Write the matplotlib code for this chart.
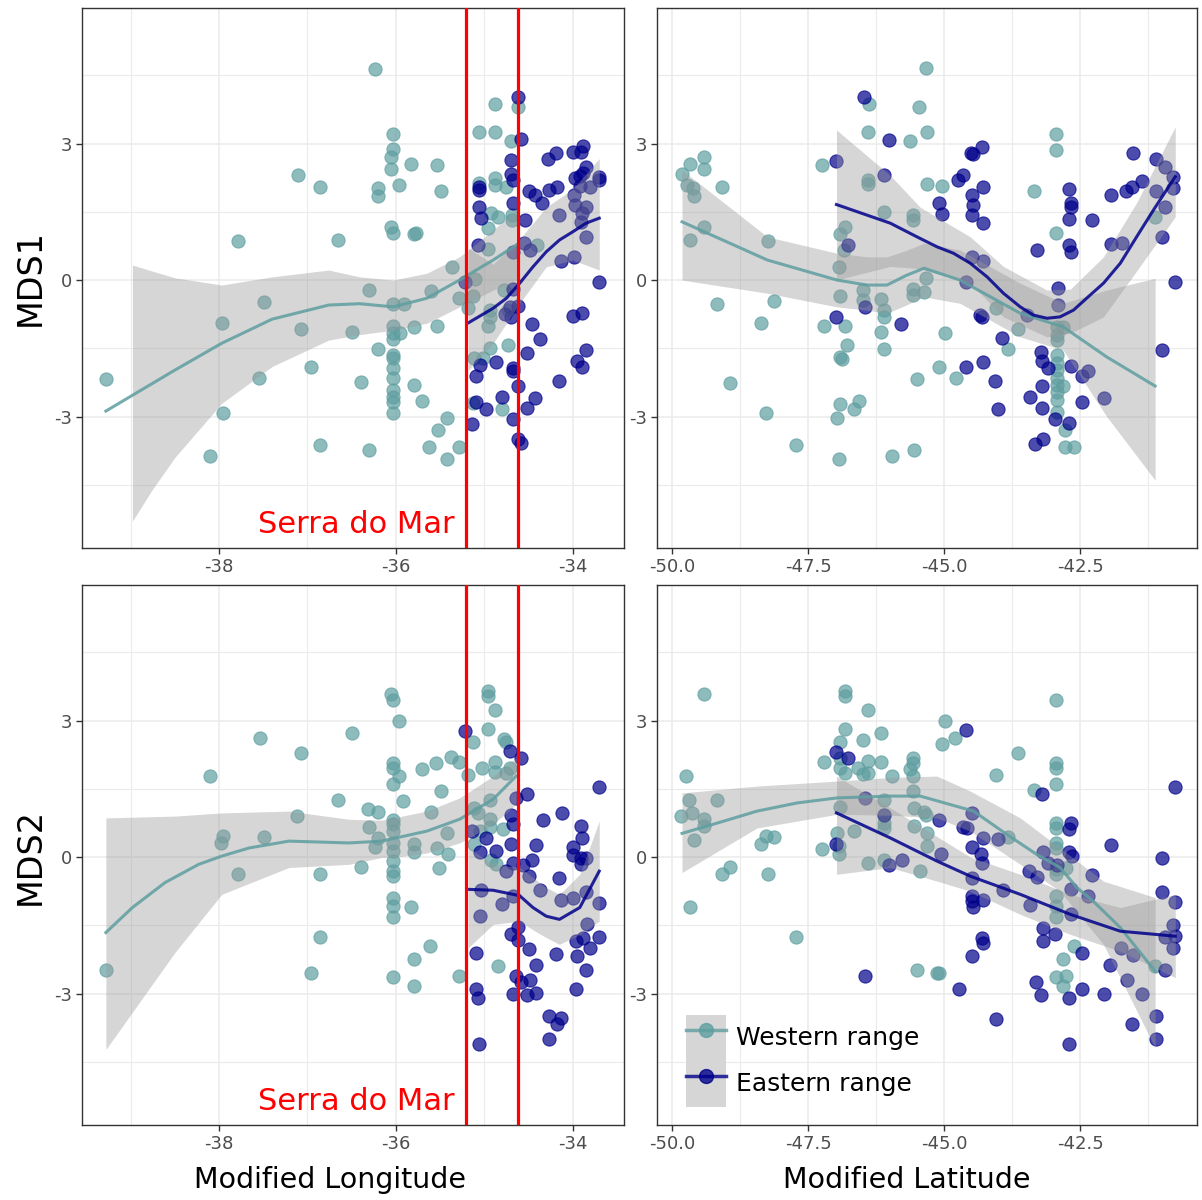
import numpy as np
import matplotlib.pyplot as plt
from matplotlib.lines import Line2D
from matplotlib.patches import Patch

plt.rcParams['font.family'] = ['DejaVu Sans']
plt.rcParams['axes.unicode_minus'] = False

WEST = '#5F9EA0'
EAST = '#00008B'

# ---- points: (x, MDS value) ----
tl_west = [(-36.24, 4.65), (-37.11, 2.32), (-36.86, 2.04), (-36.2, 2.02), (-36.2, 1.85), (-37.79, 0.86),
           (-36.65, 0.88), (-36.3, -0.21), (-37.49, -0.48), (-37.97, -0.94), (-37.07, -1.08), (-36.5, -1.15),
           (-36.2, -1.52), (-39.28, -2.18), (-37.55, -2.16), (-36.96, -1.92), (-36.4, -2.25), (-37.96, -2.93),
           (-38.1, -3.87), (-36.86, -3.63), (-36.3, -3.74), (-34.88, 3.88), (-34.62, 3.80), (-35.06, 3.25),
           (-34.88, 3.26), (-34.70, 3.06), (-36.03, 3.21), (-36.03, 2.87), (-36.05, 2.70), (-36.05, 2.45),
           (-35.83, 2.56), (-35.53, 2.52), (-35.96, 2.08), (-35.49, 1.95), (-35.06, 2.14), (-34.88, 2.24),
           (-34.88, 2.10), (-34.76, 2.05), (-36.05, 1.17), (-36.03, 1.04), (-35.8, 1.02), (-35.77, 1.03),
           (-34.92, 1.48), (-34.85, 1.39), (-34.69, 1.43), (-34.69, 1.32), (-34.96, 1.14), (-34.96, 0.68),
           (-34.40, 0.78), (-35.37, 0.28), (-36.03, -0.53), (-35.91, -0.53), (-35.6, -0.25), (-35.29, -0.40),
           (-35.11, 0.03), (-35.13, -0.35), (-35.18, -0.62), (-34.78, -0.22), (-34.93, -0.66), (-34.93, -0.81),
           (-34.96, -1.0), (-34.73, -0.66), (-36.03, -1.0), (-36.03, -1.17), (-35.95, -1.17), (-36.03, -1.3),
           (-35.8, -1.04), (-35.54, -1.0), (-36.03, -1.65), (-36.03, -1.72), (-36.03, -1.94), (-36.03, -2.16),
           (-36.03, -2.42), (-36.03, -2.56), (-36.03, -2.67), (-36.03, -2.92), (-35.8, -2.31), (-35.71, -2.65),
           (-34.93, -1.50), (-34.73, -1.42), (-35.12, -1.72), (-35.01, -1.72), (-35.13, -2.71), (-34.8, -2.84),
           (-35.42, -3.04), (-35.52, -3.30), (-35.62, -3.68), (-35.42, -3.94), (-35.29, -3.66)]
tl_east = [(-34.62, 4.03), (-34.59, 3.09), (-34.70, 2.64), (-34.7, 2.34), (-34.67, 2.2), (-34.28, 2.67),
           (-34.19, 2.80), (-34.0, 2.82), (-33.91, 2.82), (-33.88, 2.95), (-33.85, 2.49), (-33.97, 2.24),
           (-33.92, 2.29), (-33.88, 2.35), (-33.7, 2.27), (-33.7, 2.2), (-33.92, 2.07), (-33.81, 2.05),
           (-35.06, 2.05), (-35.06, 1.98), (-34.49, 1.96), (-34.43, 1.86), (-34.35, 1.69), (-34.27, 1.98),
           (-34.18, 2.05), (-33.98, 1.86), (-35.06, 1.61), (-35.04, 1.36), (-34.67, 1.69), (-34.54, 1.33),
           (-33.97, 1.66), (-33.85, 1.61), (-33.89, 1.47), (-33.91, 1.28), (-34.15, 1.44), (-33.85, 0.95),
           (-35.07, 0.77), (-34.55, 0.81), (-34.48, 0.66), (-34.67, 0.62), (-34.13, 0.42), (-33.99, 0.51),
           (-33.70, -0.04), (-35.22, -0.04), (-34.67, -0.19), (-34.71, -0.59), (-34.62, -0.57), (-34.77, -0.75),
           (-34.7, -0.82), (-34.46, -0.97), (-34.37, -1.29), (-34.0, -0.8), (-33.89, -0.73), (-34.52, -1.6),
           (-34.87, -1.80), (-35.05, -1.87), (-35.09, -2.11), (-34.68, -1.94), (-34.67, -1.99), (-34.62, -2.33),
           (-33.95, -1.79), (-33.89, -1.92), (-33.85, -1.54), (-34.15, -2.23), (-34.43, -2.6), (-34.52, -2.82),
           (-34.8, -2.56), (-34.98, -2.84), (-35.09, -2.67), (-35.14, -3.16), (-34.67, -3.06), (-34.62, -3.5),
           (-34.59, -3.59)]

tr_west = [(-45.33, 4.66), (-46.39, 3.88), (-45.46, 3.80), (-46.40, 3.26), (-45.62, 3.05), (-45.31, 3.25),
           (-49.67, 2.56), (-49.42, 2.70), (-49.42, 2.44), (-49.82, 2.33), (-49.72, 2.09), (-49.61, 2.03),
           (-49.60, 1.85), (-49.08, 2.05), (-47.25, 2.53), (-46.40, 2.20), (-46.40, 2.11), (-45.31, 2.11),
           (-46.11, 1.50), (-45.57, 1.44), (-45.57, 1.33), (-49.42, 1.17), (-49.67, 0.89), (-48.24, 0.86),
           (-46.83, 1.16), (-46.92, 1.01), (-46.84, 0.67), (-46.94, 0.29), (-46.92, -0.34), (-46.5, -0.22),
           (-46.5, -0.44), (-46.17, -0.41), (-46.11, -0.66), (-46.11, -0.81), (-45.34, 0.04), (-45.57, -0.2),
           (-45.57, -0.33), (-45.37, -0.26), (-49.17, -0.53), (-48.13, -0.47), (-48.36, -0.94), (-47.2, -1.0),
           (-46.83, -1.0), (-46.17, -1.14), (-46.11, -1.51), (-46.79, -1.42), (-46.92, -1.70), (-46.87, -1.74),
           (-45.5, -2.18), (-48.94, -2.26), (-48.27, -2.93), (-46.92, -2.73), (-46.66, -2.84), (-46.56, -2.65),
           (-46.97, -3.04), (-47.73, -3.63), (-46.93, -3.94), (-45.96, -3.87), (-45.56, -3.74), (-45.04, 2.07),
           (-43.35, 1.95), (-42.94, 3.21), (-42.94, 2.86), (-42.94, 1.04), (-41.12, 1.39), (-44.04, -0.62),
           (-43.64, -1.08), (-44.98, -1.16), (-43.82, -1.52), (-45.1, -1.91), (-44.79, -2.16), (-42.93, -1.03),
           (-42.93, -1.21), (-42.93, -1.32), (-42.81, -1.03), (-42.93, -1.65), (-42.93, -1.83), (-42.93, -1.98),
           (-42.93, -2.16), (-42.93, -2.31), (-42.93, -2.45), (-42.93, -2.64), (-42.93, -2.89), (-42.81, -2.33),
           (-42.77, -3.30), (-42.77, -3.68), (-42.62, -3.68)]
tr_east = [(-46.48, 4.03), (-46.02, 3.08), (-46.99, 2.62), (-46.1, 2.31), (-46.77, 0.78), (-46.98, -0.81),
           (-46.46, -0.59), (-45.79, -0.97), (-44.3, 2.93), (-44.51, 2.80), (-44.46, 2.77), (-44.66, 2.31),
           (-44.74, 2.21), (-45.1, 1.69), (-45.04, 1.45), (-44.49, 1.87), (-44.47, 1.65), (-44.49, 1.43),
           (-44.29, 2.05), (-44.29, 1.26), (-42.70, 2.01), (-42.66, 1.70), (-42.67, 1.60), (-42.71, 1.35),
           (-42.28, 1.33), (-41.94, 1.86), (-41.65, 1.95), (-41.54, 2.05), (-41.37, 2.18), (-41.52, 2.80),
           (-41.1, 2.67), (-40.94, 2.49), (-40.79, 2.27), (-40.79, 2.02), (-41.1, 1.96), (-40.94, 1.60),
           (-41.0, 0.94), (-40.75, -0.04), (-41.0, -1.54), (-43.3, 0.66), (-42.7, 0.77), (-42.66, 0.62),
           (-41.94, 0.79), (-41.73, 0.81), (-44.49, 0.51), (-44.29, 0.42), (-44.6, -0.04), (-42.9, -0.18),
           (-42.91, -0.54), (-44.34, -0.77), (-44.3, -0.82), (-43.47, -0.77), (-43.93, -1.28), (-43.22, -1.58),
           (-43.2, -1.79), (-43.09, -1.94), (-44.6, -1.92), (-44.28, -1.8), (-44.06, -2.23), (-44.01, -2.83),
           (-43.2, -2.33), (-43.43, -2.56), (-43.2, -2.81), (-42.97, -3.06), (-42.7, -3.15), (-43.32, -3.60),
           (-43.19, -3.50), (-42.67, -1.89), (-42.46, -2.11), (-42.35, -1.99), (-42.46, -2.67), (-42.06, -2.6)]

bl_west = [(-37.54, 2.62), (-36.5, 2.72), (-37.07, 2.28), (-38.1, 1.78), (-36.66, 1.25), (-36.31, 1.06),
           (-36.2, 0.99), (-37.12, 0.90), (-36.3, 0.67), (-37.96, 0.46), (-37.98, 0.31), (-37.49, 0.45),
           (-36.2, 0.42), (-36.24, 0.23), (-37.79, -0.37), (-36.86, -0.38), (-36.4, -0.22), (-36.86, -1.76),
           (-39.28, -2.48), (-36.96, -2.54), (-36.05, 3.59), (-36.03, 3.46), (-35.96, 2.99), (-34.96, 3.66),
           (-34.96, 3.54), (-34.88, 3.23), (-34.96, 2.82), (-35.13, 2.52), (-34.78, 2.6), (-34.76, 2.52),
           (-36.03, 2.07), (-36.03, 1.96), (-35.96, 1.78), (-36.03, 1.6), (-35.7, 1.93), (-35.55, 2.07),
           (-35.38, 2.2), (-35.29, 2.08), (-35.18, 1.80), (-35.03, 1.96), (-34.88, 2.09), (-34.88, 1.86),
           (-34.75, 1.85), (-34.71, 1.96), (-35.49, 1.45), (-35.92, 1.23), (-35.6, 0.98), (-36.03, 0.81),
           (-36.03, 0.72), (-36.03, 0.57), (-36.03, 0.31), (-36.03, 0.13), (-36.03, -0.09), (-36.03, -0.31),
           (-36.03, -0.42), (-35.79, 0.28), (-35.8, 0.11), (-35.53, 0.19), (-35.41, 0.06), (-35.42, 0.53),
           (-35.51, -0.23), (-35.12, 1.08), (-35.07, 0.97), (-34.93, 0.83), (-34.93, 0.66), (-34.79, 0.61),
           (-35.05, 0.57), (-35.12, 0.28), (-34.92, -0.07), (-34.87, -0.16), (-34.93, 1.25), (-36.03, -0.89),
           (-36.03, -1.08), (-36.03, -1.32), (-35.83, -1.10), (-35.61, -1.96), (-35.8, -2.24), (-36.03, -2.64),
           (-35.8, -2.84), (-35.29, -2.62), (-34.85, -2.40)]
bl_east = [(-35.22, 2.78), (-34.71, 2.33), (-34.58, 2.17), (-34.52, 1.38), (-34.64, 1.30), (-33.7, 1.54),
           (-34.12, 0.97), (-34.34, 0.81), (-33.91, 0.68), (-33.89, 0.42), (-34.7, 0.92), (-34.67, 0.72),
           (-35.14, 0.58), (-34.98, 0.41), (-34.42, 0.26), (-34.7, 0.29), (-34.87, 0.13), (-35.05, 0.12),
           (-34.0, 0.23), (-34.0, 0.04), (-33.91, -0.01), (-33.85, -0.01), (-33.91, -0.16), (-34.46, -0.07),
           (-34.67, -0.12), (-34.56, -0.18), (-34.76, -0.31), (-34.5, -0.42), (-34.15, -0.46), (-35.04, -0.72),
           (-34.68, -0.86), (-34.37, -0.72), (-34.8, -1.04), (-34.13, -0.94), (-34.0, -0.91), (-33.85, -0.76),
           (-33.7, -1.0), (-35.05, -1.30), (-33.84, -1.48), (-34.62, -1.54), (-34.7, -1.69), (-34.62, -1.83),
           (-34.49, -2.02), (-33.96, -1.85), (-33.88, -1.77), (-33.81, -2.01), (-33.7, -1.75), (-35.09, -2.1),
           (-34.19, -2.14), (-33.95, -2.18), (-34.42, -2.37), (-33.85, -2.49), (-34.64, -2.62), (-34.58, -2.74),
           (-34.48, -2.71), (-35.09, -2.91), (-35.07, -3.09), (-34.67, -3.02), (-34.52, -3.03), (-34.42, -2.99),
           (-33.96, -2.91), (-34.27, -3.5), (-34.13, -3.53), (-34.18, -3.68), (-34.27, -3.99), (-35.06, -4.12)]

br_west = [(-49.42, 3.59), (-46.83, 3.66), (-46.83, 3.54), (-46.4, 3.23), (-46.83, 2.82), (-46.92, 2.52),
           (-46.5, 2.57), (-46.17, 2.72), (-47.2, 2.08), (-46.92, 2.18), (-46.92, 1.96), (-46.83, 1.85),
           (-46.58, 1.95), (-46.4, 2.11), (-46.4, 1.85), (-46.49, 1.82), (-46.17, 2.09), (-45.96, 1.78),
           (-45.57, 2.18), (-45.57, 2.07), (-45.62, 1.93), (-45.57, 1.78), (-45.57, 1.45), (-49.74, 1.79),
           (-49.69, 1.25), (-49.17, 1.25), (-49.83, 0.90), (-49.63, 0.97), (-49.42, 0.83), (-49.42, 0.68),
           (-49.6, 0.37), (-48.28, 0.46), (-48.13, 0.45), (-48.36, 0.29), (-46.92, 1.10), (-46.1, 1.25),
           (-46.11, 0.92), (-46.11, 0.75), (-46.11, 0.64), (-45.56, 1.08), (-45.56, 0.68), (-45.37, 1.0),
           (-45.33, 0.92), (-45.31, 0.53), (-45.31, 0.24), (-46.66, 0.58), (-46.97, 0.53), (-46.93, 0.24),
           (-46.93, 0.06), (-47.25, 0.18), (-46.4, -0.12), (-46.11, -0.07), (-45.45, -0.31), (-49.08, -0.38),
           (-48.93, -0.22), (-48.24, -0.38), (-49.67, -1.10), (-47.73, -1.76), (-45.5, -2.49), (-45.13, -2.54),
           (-42.94, 3.46), (-44.99, 2.99), (-44.8, 2.62), (-45.04, 2.49), (-43.64, 2.28), (-44.04, 1.80),
           (-42.94, 2.07), (-42.94, 1.96), (-42.94, 1.60), (-43.35, 1.47), (-42.94, 0.75), (-42.94, 0.64),
           (-42.94, 0.31), (-42.94, 0.20), (-42.94, -0.27), (-42.94, -0.38), (-42.75, -0.23), (-42.94, -0.86),
           (-42.94, -1.08), (-42.94, -1.32), (-43.82, 0.44), (-42.62, -1.96), (-42.82, -2.25), (-42.94, -2.64),
           (-42.75, -2.62), (-42.81, -2.84), (-45.1, -2.54), (-41.12, -2.40)]
br_east = [(-46.98, 2.31), (-46.76, 2.17), (-46.46, 1.30), (-46.1, 0.92), (-46.99, 0.29), (-46.02, -0.18),
           (-45.78, -0.06), (-46.46, -2.62), (-44.6, 2.79), (-43.2, 1.38), (-42.66, 0.75), (-42.7, 0.61),
           (-40.75, 1.54), (-41.94, 0.26), (-41.0, -0.01), (-41.0, -0.76), (-40.76, -0.98), (-45.1, 0.81),
           (-44.49, 0.97), (-44.66, 0.66), (-44.58, 0.64), (-44.29, 0.42), (-44.01, 0.39), (-44.49, 0.22),
           (-44.33, 0.07), (-44.31, -0.12), (-45.05, 0.06), (-43.19, 0.12), (-43.09, -0.12), (-42.93, -0.18),
           (-42.71, 0.12), (-42.65, 0.02), (-43.44, -0.31), (-43.29, -0.44), (-44.49, -0.47), (-43.92, -0.72),
           (-42.67, -0.71), (-42.28, -0.40), (-42.35, -0.85), (-44.49, -0.86), (-44.49, -0.97), (-44.47, -1.10),
           (-44.28, -0.94), (-43.43, -1.06), (-42.67, -1.26), (-43.19, -1.55), (-43.19, -1.85), (-42.96, -1.69),
           (-44.31, -1.77), (-44.28, -1.88), (-44.49, -2.17), (-42.46, -2.10), (-41.95, -2.37), (-41.74, -2.01),
           (-41.53, -2.15), (-41.64, -2.71), (-41.37, -3.02), (-40.94, -2.49), (-41.1, -3.5), (-41.1, -3.99),
           (-41.54, -3.68), (-40.94, -1.76), (-40.79, -1.49), (-40.79, -1.99), (-40.75, -1.74), (-44.73, -2.91),
           (-44.04, -3.55), (-43.31, -2.74), (-43.21, -3.03), (-42.7, -3.09), (-42.46, -2.91), (-42.06, -3.0),
           (-42.7, -4.10)]

# ---- smoothed fits ----
# fit: (x, y)   band: (x, lower, upper)
tl_west_fit = ([-39.28, -38.5, -37.97, -37.4, -36.76, -36.41, -36.03, -35.65, -35.28, -34.9, -34.64],
               [-2.88, -1.98, -1.39, -0.86, -0.55, -0.52, -0.59, -0.40, 0.0, 0.44, 0.77])
tl_west_band = ([-38.98, -38.76, -38.5, -37.97, -37.4, -36.76, -36.41, -36.03, -35.65, -35.28, -34.9, -34.64],
                [-5.3, -4.62, -3.9, -2.71, -1.9, -1.32, -1.2, -1.1, -0.95, -0.59, -0.22, 0.0],
                [0.33, 0.2, 0.05, -0.11, 0.07, 0.22, 0.07, 0.0, 0.15, 0.51, 1.1, 1.54])
tl_east_fit = ([-35.18, -34.9, -34.75, -34.6, -34.45, -34.3, -34.15, -34.0, -33.85, -33.7],
               [-0.94, -0.62, -0.40, -0.07, 0.29, 0.62, 0.88, 1.06, 1.25, 1.36])
tl_east_band = ([-35.18, -34.9, -34.6, -34.3, -34.0, -33.7],
                [-1.98, -1.39, -0.51, 0.29, 0.44, 0.22],
                [0.7, 0.35, 0.9, 1.6, 2.0, 2.67])

tr_west_fit = ([-49.82, -48.25, -46.97, -46.42, -46.05, -45.7, -45.37, -44.71, -43.6, -42.81, -42.01, -41.12],
               [1.28, 0.44, 0.0, -0.11, -0.11, 0.1, 0.26, 0.0, -0.73, -1.03, -1.69, -2.33])
tr_west_band = (tr_west_fit[0],
                [0.0, -0.29, -0.59, -0.66, -0.73, -0.55, -0.37, -0.51, -1.25, -1.54, -3.0, -4.4],
                [2.42, 0.95, 0.59, 0.51, 0.51, 0.65, 0.81, 0.66, -0.07, -0.51, -0.22, 0.04])
tr_east_fit = ([-46.98, -45.99, -45.5, -45.13, -44.83, -44.52, -44.21, -43.91, -43.6, -43.36, -43.11,
                -42.87, -42.62, -42.38, -42.07, -41.76, -41.46, -41.15, -40.91, -40.75],
               [1.66, 1.25, 0.95, 0.73, 0.59, 0.37, 0.07, -0.29, -0.59, -0.77, -0.84,
                -0.81, -0.66, -0.40, -0.07, 0.37, 0.95, 1.54, 1.98, 2.27])
tr_east_band = ([-46.98, -45.99, -45.44, -44.52, -43.91, -43.11, -42.68, -42.07, -41.46, -40.75],
                [0.0, 0.3, 0.25, -0.07, -0.81, -1.25, -1.17, -0.81, 0.2, 1.39],
                [3.3, 2.3, 1.6, 0.95, 0.3, -0.22, -0.2, 0.51, 1.7, 3.37])

bl_west_fit = ([-39.28, -38.98, -38.61, -38.23, -37.97, -37.66, -37.21, -36.53, -36.16, -35.65, -35.28,
                -34.9, -34.64],
               [-1.66, -1.11, -0.56, -0.16, 0.02, 0.20, 0.35, 0.31, 0.35, 0.57, 0.83, 1.27, 1.78])
bl_west_band = ([-39.28, -38.5, -37.97, -37.21, -36.53, -36.16, -36.03, -35.65, -35.28, -34.9, -34.64],
                [-4.23, -2.1, -0.82, -0.23, -0.16, -0.01, -0.01, 0.09, 0.31, 0.72, 1.16],
                [0.86, 0.9, 0.97, 1.01, 0.83, 0.81, 0.86, 1.01, 1.30, 1.78, 2.18])
bl_east_fit = ([-35.18, -34.9, -34.6, -34.45, -34.3, -34.15, -33.92, -33.7],
               [-0.71, -0.73, -0.85, -1.11, -1.3, -1.37, -1.11, -0.31])
bl_east_band = (bl_east_fit[0],
                [-1.99, -1.48, -1.41, -1.6, -1.77, -1.92, -1.70, -1.41],
                [0.2, -0.16, -0.23, -0.45, -0.67, -0.82, -0.38, 0.79])

br_west_fit = ([-49.82, -49.05, -48.44, -47.7, -46.97, -45.99, -45.44, -44.46, -43.85, -43.3, -42.87,
                -42.56, -42.26, -41.76, -41.12],
               [0.52, 0.79, 1.01, 1.19, 1.30, 1.34, 1.34, 1.01, 0.50, 0.06, -0.23,
                -0.67, -0.97, -1.55, -2.51])
br_west_band = ([-49.82, -48.44, -46.97, -45.99, -45.13, -44.52, -43.6, -42.87, -42.07, -41.12],
                [-0.34, 0.64, 0.94, 0.92, 0.86, 0.57, -0.16, -0.75, -1.92, -4.19],
                [1.41, 1.56, 1.67, 1.75, 1.78, 1.45, 0.86, 0.2, -0.53, -0.89])
br_east_fit = ([-46.98, -45.99, -45.13, -44.52, -43.6, -42.68, -41.76, -40.75],
               [0.97, 0.42, -0.09, -0.42, -0.82, -1.26, -1.63, -1.74])
br_east_band = (br_east_fit[0],
                [-0.38, -0.23, -0.53, -0.75, -1.26, -1.70, -2.07, -2.65],
                [1.78, 1.08, 0.45, 0.0, -0.38, -0.82, -1.11, -0.82])

serra_do_mar = [-35.21, -34.62]
lon_ticks = [-38, -36, -34]
lat_ticks = [-50.0, -47.5, -45.0, -42.5]
mds_ticks = [3, 0, -3]


def style_axis(ax, xlim, xticks, xlabels, xminor):
    ax.set_xticks(xticks)
    ax.set_xticklabels(xlabels)
    ax.set_xticks(xminor, minor=True)
    ax.set_yticks(mds_ticks)
    ax.set_yticklabels([str(t) for t in mds_ticks])
    ax.set_yticks([-4.5, -1.5, 1.5, 4.5], minor=True)
    # limits after the ticks, so off-range minor ticks do not widen them
    ax.set_xlim(xlim)
    ax.set_ylim(-5.89, 5.98)
    ax.grid(which='major', color='#EBEBEB', lw=1.1, zorder=0)
    ax.grid(which='minor', color='#EBEBEB', lw=0.8, zorder=0)
    ax.set_axisbelow(True)
    ax.tick_params(which='major', length=4, width=1, color='#333333',
                   labelcolor='#4D4D4D', labelsize=13, pad=3)
    ax.tick_params(which='minor', length=0)
    for s in ax.spines.values():
        s.set_color('#333333')
        s.set_linewidth(1.0)


def draw_panel(ax, west, east, wfit, wband, efit, eband):
    for pts, col in ((west, WEST), (east, EAST)):
        xy = np.array(pts)
        ax.scatter(xy[:, 0], xy[:, 1], s=90, color=col, alpha=0.7,
                   edgecolors=col, linewidths=0.8, zorder=2)
    for fit, band, col in ((wfit, wband, WEST), (efit, eband, EAST)):
        ax.fill_between(band[0], band[1], band[2], color='#999999', alpha=0.4,
                        lw=0, zorder=3)
        ax.plot(fit[0], fit[1], color=col, lw=2.2, alpha=0.85, zorder=4,
                solid_joinstyle='round')


fig = plt.figure(figsize=(12.02, 12), dpi=100)
W, H = 1202, 1200
ax_tl = fig.add_axes([82 / W, 652 / H, 542 / W, 540 / H])
ax_tr = fig.add_axes([657 / W, 652 / H, 540 / W, 540 / H])
ax_bl = fig.add_axes([82 / W, 75 / H, 542 / W, 540 / H])
ax_br = fig.add_axes([657 / W, 75 / H, 540 / W, 540 / H])

draw_panel(ax_tl, tl_west, tl_east, tl_west_fit, tl_west_band, tl_east_fit, tl_east_band)
draw_panel(ax_tr, tr_west, tr_east, tr_west_fit, tr_west_band, tr_east_fit, tr_east_band)
draw_panel(ax_bl, bl_west, bl_east, bl_west_fit, bl_west_band, bl_east_fit, bl_east_band)
draw_panel(ax_br, br_west, br_east, br_west_fit, br_west_band, br_east_fit, br_east_band)

for ax in (ax_tl, ax_bl):
    style_axis(ax, (-39.55, -33.42), lon_ticks, [str(t) for t in lon_ticks], [-39, -37, -35, -33])
    for xv in serra_do_mar:
        ax.axvline(xv, color='red', lw=2.3, zorder=5)
    ax.text(-35.33, -5.38, 'Serra do Mar', color='red', fontsize=22,
            ha='right', va='center', zorder=6)
for ax in (ax_tr, ax_br):
    style_axis(ax, (-50.28, -40.35), lat_ticks, ['%.1f' % t for t in lat_ticks],
               [-51.25, -48.75, -46.25, -43.75, -41.25])

fig.text(30 / W, 1 - 278 / H, 'MDS1', rotation=90, fontsize=24, ha='center', va='center')
fig.text(30 / W, 1 - 856 / H, 'MDS2', rotation=90, fontsize=24, ha='center', va='center')
fig.text(330 / W, 1 - 1180 / H, 'Modified Longitude', fontsize=20.5, ha='center', va='center')
fig.text(907 / W, 1 - 1180 / H, 'Modified Latitude', fontsize=20.5, ha='center', va='center')

handles = []
for col in (WEST, EAST):
    box = Patch(facecolor='#D6D6D6', edgecolor='none')
    ln = Line2D([], [], color=col, lw=2.5, alpha=0.8, marker='o', markersize=10,
                markerfacecolor=col, markeredgecolor=col)
    handles.append((box, ln))
ax_br.legend(handles, ['Western range', 'Eastern range'], loc='upper left',
             bbox_to_anchor=(0.054, 0.204), frameon=False, fontsize=18,
             handlelength=1.6, handleheight=2.45, handletextpad=0.4,
             labelspacing=0.0, borderpad=0, borderaxespad=0)

fig.savefig('out.png', dpi=100)
